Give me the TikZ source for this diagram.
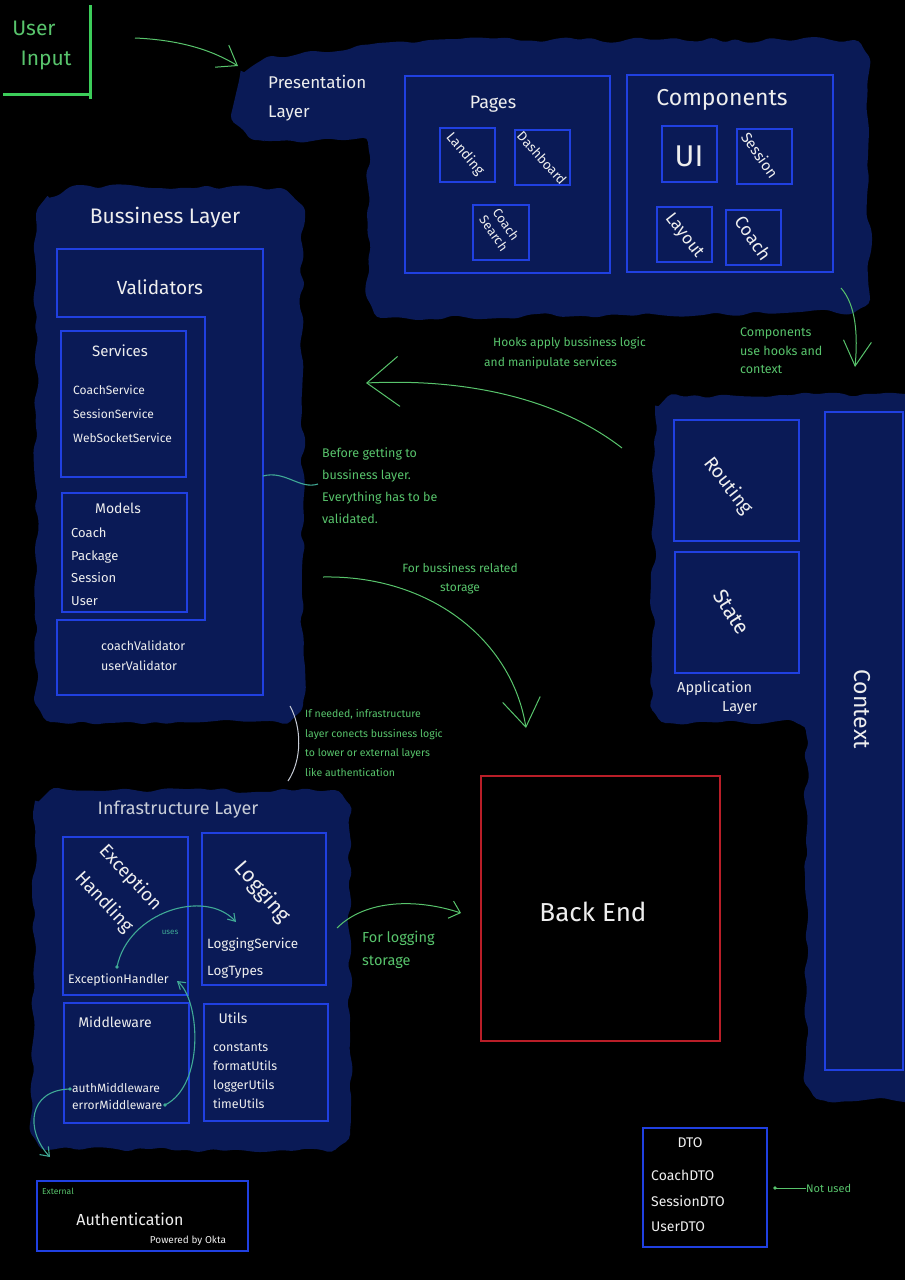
\documentclass[tikz,border=0pt]{standalone}
\usepackage{fontspec}
\setmainfont{Fira Sans}
\usetikzlibrary{arrows.meta,decorations.pathmorphing,fit}
\definecolor{blobc}{RGB}{10,26,86}
\definecolor{boxc}{RGB}{32,64,225}
\definecolor{grn}{RGB}{88,196,108}
\definecolor{grnb}{RGB}{60,205,90}
\definecolor{tealc}{RGB}{64,170,150}
\definecolor{redc}{RGB}{185,30,40}
\definecolor{wht}{RGB}{238,238,238}
\definecolor{gry}{RGB}{200,205,215}
\tikzset{
  blob/.style={fill=blobc, decorate, decoration={random steps,segment length=12pt,amplitude=3pt}, rounded corners=5pt},
  bx/.style={draw=boxc, line width=1.3pt, inner sep=0pt},
  rbx/.style={draw=redc, line width=1.2pt, inner sep=0pt},
  wt/.style 2 args={text=wht, font=\fontsize{#1}{#2}\selectfont, align=left, inner sep=0pt},
  gt/.style 2 args={text=grn, font=\fontsize{#1}{#2}\selectfont, align=left, inner sep=0pt},
  gline/.style={draw=grn, line width=1pt},
  tline/.style={draw=tealc, line width=1.1pt},
  barb/.style 2 args={-{Straight Barb[length=#1pt,width=#2pt]}},
}
\begin{document}
\begin{tikzpicture}[x=1pt,y=-1pt]
\pgfmathsetseed{7}
\fill[black] (0,0) rectangle (905,1280);
\useasboundingbox (0,0) rectangle (905,1280);

% ---------- blobs ----------
\fill[blob] (240,75) -- (265,58) -- (330,52) -- (372,44) -- (430,40) -- (855,40) -- (868,55) -- (870,300) -- (855,312) -- (380,318) -- (368,300) -- (368,140) -- (255,140) -- (233,122) -- cycle;
\fill[blob] (45,200) -- (70,187) -- (280,188) -- (302,205) -- (303,705) -- (290,722) -- (50,722) -- (36,705) -- (36,215) -- cycle;
\fill[blob] (655,410) -- (668,396) -- (910,394) -- (910,1100) -- (820,1100) -- (806,1085) -- (806,730) -- (795,722) -- (665,723) -- (652,710) -- cycle;
\fill[blob] (35,805) -- (50,790) -- (335,790) -- (350,805) -- (350,1135) -- (335,1150) -- (45,1150) -- (32,1135) -- cycle;

% ---------- user input ----------
\draw[grnb, line width=3pt] (90,5) -- (90,99);
\draw[grnb, line width=3pt] (3,94) -- (90,94);
\node[gt={21}{21}] (userT) at (34,28) {User};
\node[gt={21}{21}] (inputT) at (46,60) {Input};

% ---------- presentation layer ----------
\node[wt={17}{29}, anchor=north west] (presT) at (268,75) {Presentation\\Layer};
\node[bx, fit={(405,76) (610,273)}] (pages) {};
\node[bx, fit={(627,75) (833,272)}] (comps) {};
\node[wt={18}{18}] (pagesT) at (493,104) {Pages};
\node[wt={23}{23}] (compsT) at (722,100) {Components};
\node[bx, fit={(440,128) (495,182)}] (landing) {};
\node[bx, fit={(515,130) (570,185)}] (dash) {};
\node[bx, fit={(473,205) (529,260)}] (csearch) {};
\node[wt={14}{14}, rotate=-50] (landT) at (465,154) {Landing};
\node[wt={13.5}{13.5}, rotate=-48] (dashT) at (542,158) {Dashboard};
\node[wt={13}{15}, align=center, rotate=-55] (csT) at (500,229) {Coach\\Search};
\node[bx, fit={(662,126) (717,182)}] (ui) {};
\node[bx, fit={(737,129) (792,184)}] (sess) {};
\node[bx, fit={(657,207) (712,262)}] (layout) {};
\node[bx, fit={(726,210) (781,265)}] (coachc) {};
\node[wt={30}{30}] (uiT) at (689,156) {UI};
\node[wt={15}{15}, rotate=-55] (sessT) at (760,155) {Session};
\node[wt={17}{17}, rotate=-52] (layoutT) at (684,236) {Layout};
\node[wt={18}{18}, rotate=-55] (coachT) at (753,238) {Coach};

% ---------- business layer ----------
\node[wt={21}{21}] (busT) at (165,218) {Bussiness Layer};
\draw[boxc, line width=1.3pt] (57,249) -- (263,249) -- (263,695) -- (57,695) -- (57,620) -- (205,620) -- (205,317) -- (57,317) -- cycle;
\node[wt={19}{19}] (valT) at (160,287) {Validators};
\node[bx, fit={(61,331) (186,477)}] (services) {};
\node[wt={15}{15}] (servT) at (120,351) {Services};
\node[wt={12}{24}, anchor=north west] (servL) at (73,385) {CoachService\\SessionService\\WebSocketService};
\node[bx, fit={(62,493) (187,612)}] (models) {};
\node[wt={14}{14}] (modT) at (118,508) {Models};
\node[wt={13}{22.5}, anchor=north west] (modL) at (71,528) {Coach\\Package\\Session\\User};
\node[wt={12.5}{20}, anchor=north west] (valL) at (101,641) {coachValidator\\userValidator};
\coordinate (valR) at (263,476);

% ---------- application layer ----------
\node[bx, fit={(674,420) (799,541)}] (routing) {};
\node[bx, fit={(675,552) (799,673)}] (state) {};
\node[bx, fit={(825,412) (903,1070)}] (context) {};
\node[wt={19}{19}, rotate=-52] (routT) at (728,486) {Routing};
\node[wt={21}{21}, rotate=-58] (stateT) at (732,612) {State};
\node[wt={23}{23}, rotate=-90] (ctxT) at (862,709) {Context};
\node[wt={14.5}{14.5}, anchor=west] (appT) at (677,688) {Application};
\node[wt={14.5}{14.5}, anchor=west] (appT2) at (722,708) {Layer};

% ---------- infrastructure layer ----------
\node[text=gry, font=\fontsize{18}{18}\selectfont, inner sep=0pt] (infT) at (178,810) {Infrastructure Layer};
\node[bx, fit={(63,837) (188,995)}] (exc) {};
\node[bx, fit={(202,833) (326,985)}] (logging) {};
\node[bx, fit={(64,1003) (189,1123)}] (middle) {};
\node[bx, fit={(204,1004) (328,1121)}] (utils) {};
\node[wt={18.5}{36}, align=center, rotate=-47] (excT) at (117,890) {Exception\\Handling};
\node[wt={12.5}{12.5}, anchor=west] (excH) at (68,980) {ExceptionHandler};
\node[wt={21}{21}, rotate=-49] (logT) at (262,892) {Logging};
\node[wt={13.5}{27}, anchor=north west] (logL) at (207,938) {LoggingService\\LogTypes};
\node[wt={14}{14}] (midT) at (115,1022) {Middleware};
\node[wt={12}{17}, anchor=north west] (midL) at (72,1083) {authMiddleware\\errorMiddleware};
\node[wt={14}{14}] (utT) at (233,1018) {Utils};
\node[wt={12.5}{19}, anchor=north west] (utL) at (213,1043) {constants\\formatUtils\\loggerUtils\\timeUtils};
\node[text=tealc, font=\fontsize{8}{8}\selectfont, inner sep=0pt] (usesT) at (170,932) {uses};

% ---------- back end ----------
\node[rbx, fit={(481,776) (720,1041)}] (backend) {};
\node[wt={26}{26}] (beT) at (593,912) {Back End};

% ---------- external / DTO ----------
\node[bx, fit={(37,1181) (248,1251)}] (auth) {};
\node[gt={8.5}{8.5}, anchor=west] (extT) at (42,1191) {External};
\node[wt={16}{16}] (authT) at (130,1219) {Authentication};
\node[wt={10}{10}] (oktaT) at (188,1241) {Powered by Okta};
\node[bx, fit={(643,1128) (767,1247)}] (dto) {};
\node[wt={14}{14}] (dtoT) at (690,1143) {DTO};
\node[wt={14}{25.5}, anchor=north west] (dtoL) at (651,1170) {CoachDTO\\SessionDTO\\UserDTO};
\node[gt={11}{11}, anchor=west] (notT) at (806,1188) {Not used};
\coordinate (nuDot) at (775,1188);
\draw[gline] (notT.west) -- (nuDot);
\fill[grn] (nuDot) circle (1.8);

% ---------- green notes ----------
\node[gt={12}{12}, anchor=west] (hook1) at (493,343) {Hooks apply bussiness logic};
\node[gt={12}{12}, anchor=west] (hook2) at (484,363) {and manipulate services};
\node[gt={12.5}{18.5}, anchor=north west] (compN) at (740,328) {Components\\use hooks and\\context};
\node[gt={12.5}{22}, anchor=north west] (befN) at (322,448) {Before getting to\\bussiness layer.\\Everything has to be\\validated.};
\node[gt={12}{19}, align=center] (bizN) at (460,579) {For bussiness related\\storage};
\node[gt={10.5}{19.7}, anchor=north west] (ifN) at (305,709) {If needed, infrastructure\\layer conects bussiness logic\\to lower or external layers\\like authentication};
\node[gt={14.5}{23}, anchor=north west] (logN) at (362,931) {For logging\\storage};

% ---------- connectors ----------
\coordinate (uiA) at (135,38); \coordinate (uiB) at (238,66);
\draw[gline, barb={18}{26}] (uiA) .. controls (180,40) and (212,50) .. (uiB);
\coordinate (hkA) at (622,448); \coordinate (hkB) at (366,383);
\draw[gline, barb={32}{50}] (hkA) .. controls (560,400) and (470,378) .. (hkB);
\coordinate (bzA) at (323,577); \coordinate (bzB) at (526,728);
\draw[gline, barb={28}{38}] (bzA) .. controls (430,575) and (512,640) .. (bzB);
\coordinate (cpA) at (841,288); \coordinate (cpB) at (855,367);
\draw[gline, barb={25}{28}] (cpA) .. controls (856,305) and (858,335) .. (cpB);
\coordinate (lgA) at (337,928); \coordinate (lgB) at (461,913);
\draw[gline, barb={10}{18}] (lgA) .. controls (365,900) and (415,898) .. (lgB);
\coordinate (bfB) at (318,484);
\draw[tline] (valR) .. controls (285,470) and (300,490) .. (bfB);
\coordinate (ifA) at (290,706); \coordinate (ifB) at (288,781);
\draw[gry, line width=1pt] (ifA) .. controls (302,728) and (302,760) .. (ifB);

\coordinate (ehA) at (117,967); \coordinate (ehB) at (236,922);
\draw[tline, barb={7}{9}] (ehA) .. controls (128,912) and (205,888) .. (ehB);
\fill[tealc] (ehA) circle (1.8);
\coordinate (emA) at (165,1105); \coordinate (emB) at (177,981);
\draw[tline, barb={7}{9}] (emA) .. controls (205,1085) and (200,1000) .. (emB);
\fill[tealc] (emA) circle (1.8);
\coordinate (amA) at (70,1089); \coordinate (amB) at (50,1157);
\draw[tline, barb={8}{12}] (amA) .. controls (28,1090) and (25,1130) .. (amB);
\fill[tealc] (amA) circle (1.8);
\end{tikzpicture}
\end{document}
